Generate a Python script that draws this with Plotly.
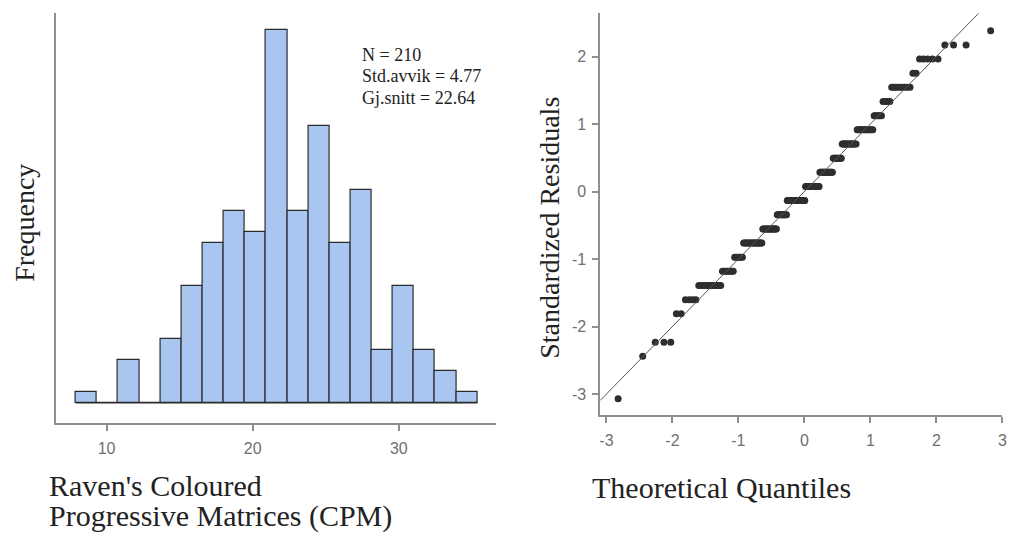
import numpy as np
import plotly.graph_objects as go
from statistics import NormalDist

# Raven's CPM raw scores and how many pupils got each score
score_values = [8, 9, 10, 11, 12, 13, 14, 15, 16, 17, 18, 19, 20, 21,
                22, 23, 24, 25, 26, 27, 28, 29, 30, 31, 32, 33, 34]
score_counts = [1, 0, 0, 1, 3, 0, 2, 4, 11, 8, 7, 18, 16, 12,
                23, 18, 16, 10, 15, 14, 6, 5, 9, 2, 5, 3, 1]

# Histogram binning
bin_start = 7.9
bin_width = 1.446
n_bins = 19

x_ticks_left = [10, 20, 30]
x_ticks_right = [-3, -2, -1, 0, 1, 2, 3]
y_ticks_right = [-3, -2, -1, 0, 1, 2]

stats_lines = ["N = 210", "Std.avvik = 4.77", "Gj.snitt = 22.64"]
mean_label = 22.64
sd_label = 4.77

W, H = 1019, 535

scores = np.repeat(score_values, score_counts)
n = len(scores)
edges = bin_start + bin_width * np.arange(n_bins + 1)
hist_counts, _ = np.histogram(scores, bins=edges)
centers = (edges[:-1] + edges[1:]) / 2

# Normal Q-Q: standardized scores against theoretical normal quantiles
resid = np.sort((scores - mean_label) / sd_label)
nd = NormalDist()
theo = np.array([nd.inv_cdf((i - 0.5) / n) for i in range(1, n + 1)])

def px_x(p):
    return p / W

def px_y(p):
    return 1 - p / H

fig = go.Figure()

fig.add_trace(go.Bar(
    x=centers, y=hist_counts, width=bin_width,
    marker=dict(color="#a8c6f0", line=dict(color="#2b2b2b", width=1.2)),
    xaxis="x", yaxis="y", showlegend=False,
))

fig.add_trace(go.Scatter(
    x=theo, y=resid, mode="markers",
    marker=dict(color="#2e2e2e", size=7),
    xaxis="x2", yaxis="y2", showlegend=False,
))

x2_range = [-3.095, 3.0]
y2_range = [-3.31, 2.64]
fig.add_trace(go.Scatter(
    x=[x2_range[0], y2_range[1]], y=[x2_range[0], y2_range[1]],
    mode="lines", line=dict(color="#555555", width=1),
    xaxis="x2", yaxis="y2", showlegend=False, cliponaxis=True,
))

tick_font = dict(family="Liberation Sans", size=16, color="#707070")
axis_line = dict(showline=True, linecolor="#8f8f8f", linewidth=1.5,
                 showgrid=False, zeroline=False, ticks="outside",
                 ticklen=6, tickcolor="#8f8f8f", tickwidth=1.5,
                 tickfont=tick_font)

def labels(vals):
    return [str(v) for v in vals]

fig.update_layout(
    width=W, height=H,
    margin=dict(l=0, r=0, t=0, b=0),
    paper_bgcolor="white", plot_bgcolor="white",
    bargap=0,
    xaxis=dict(domain=[px_x(55), px_x(498)], range=[6.52, 36.65],
               tickvals=x_ticks_left, ticktext=labels(x_ticks_left),
               ticklabelstandoff=4, **axis_line),
    yaxis=dict(domain=[px_y(423), px_y(13)], range=[-1.88, 36.6],
               showline=True, linecolor="#8f8f8f", linewidth=1.5,
               showgrid=False, zeroline=False, showticklabels=False, ticks=""),
    xaxis2=dict(domain=[px_x(602.7), px_x(1007.3)], range=x2_range,
                tickvals=x_ticks_right, ticktext=labels(x_ticks_right),
                ticklabelstandoff=4, anchor="y2", **axis_line),
    yaxis2=dict(domain=[px_y(415), px_y(13.3)], range=y2_range,
                tickvals=y_ticks_right, ticktext=labels(y_ticks_right),
                ticklabelstandoff=3, anchor="x2", **axis_line),
)

# Baseline under the histogram, visible through empty bins
fig.add_shape(type="line", xref="x", yref="y",
              x0=edges[0], x1=edges[-1], y0=0, y1=0,
              line=dict(color="#2b2b2b", width=1.2))

serif = "Liberation Serif"
title_font = dict(family=serif, size=30, color="#222222")
side_font = dict(family=serif, size=28, color="#222222")

annotations = [
    dict(text="Frequency", x=px_x(23), y=px_y(223), textangle=-90, font=side_font),
    dict(text="Raven's Coloured", x=px_x(46), y=px_y(485), xanchor="left",
         font=title_font),
    dict(text="Progressive Matrices (CPM)", x=px_x(46), y=px_y(534.5),
         xanchor="left", yanchor="bottom", font=title_font),
    dict(text="Standardized Residuals", x=px_x(551), y=px_y(228), textangle=-90,
         font=side_font),
    dict(text="Theoretical Quantiles", x=px_x(725), y=px_y(487), font=title_font),
]
for i, line in enumerate(stats_lines):
    annotations.append(dict(text=line, x=px_x(361), y=px_y(55 + 21.5 * i),
                            xanchor="left",
                            font=dict(family=serif, size=18, color="#222222")))

for a in annotations:
    a.setdefault("xanchor", "center")
    a.setdefault("yanchor", "middle")
    fig.add_annotation(xref="paper", yref="paper", showarrow=False, **a)

fig.write_html("out.html")
